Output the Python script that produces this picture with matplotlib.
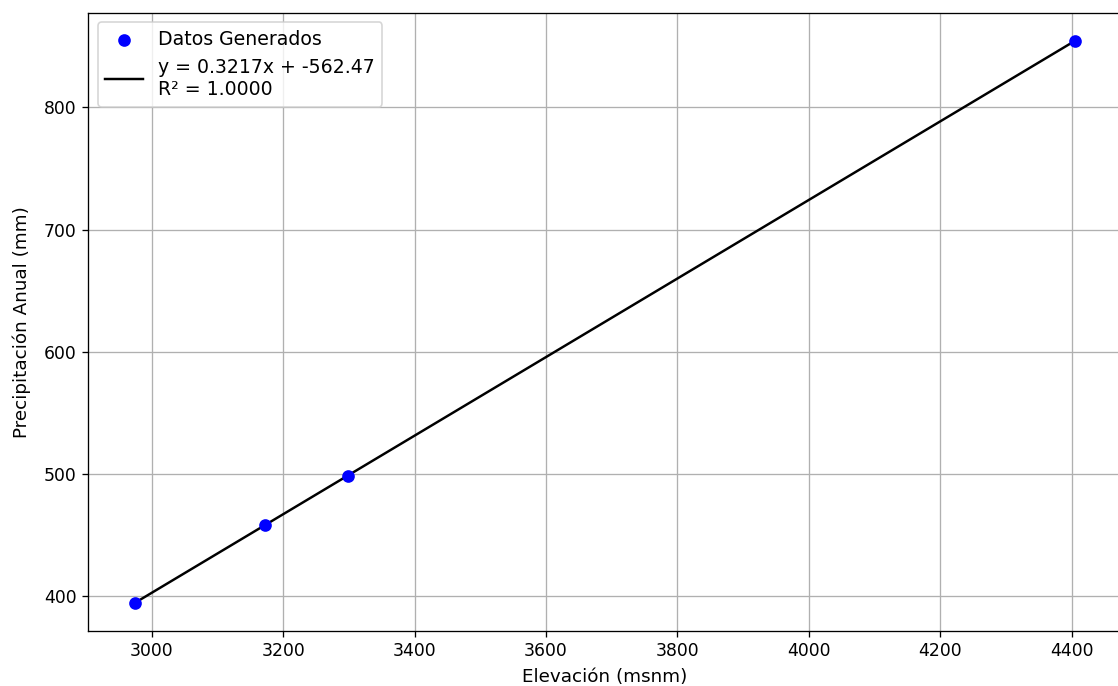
import numpy as np
import matplotlib.pyplot as plt

# Elevación (msnm) y precipitación anual (mm) de las estaciones
elevacion = np.array([2975, 3172, 3298, 4405])
precipitacion = np.array([394.6, 457.9, 498.5, 854.6])

# Ajuste lineal
pendiente = 0.3217
intercepto = -562.47
r2 = 1.0000
ajuste = pendiente * elevacion + intercepto

fig = plt.figure(figsize=(1118 / 118, 686 / 118), dpi=118)
ax = fig.add_axes([0.079, 0.0806, 0.9246, 0.9009])

ax.scatter(elevacion, precipitacion, color='blue', s=45, label='Datos Generados', zorder=3)
ax.plot(elevacion, ajuste, color='black',
        label=f'y = {pendiente:.4f}x + {intercepto:.2f}\nR² = {r2:.4f}')

ax.set_xlabel('Elevación (msnm)', fontsize=11.2, labelpad=5)
ax.set_ylabel('Precipitación Anual (mm)', fontsize=11.2, labelpad=8)
ax.tick_params(labelsize=10.5)
ax.legend(loc='upper left', fontsize=11.5)
ax.grid(True)

plt.savefig('out.png', dpi=118)
